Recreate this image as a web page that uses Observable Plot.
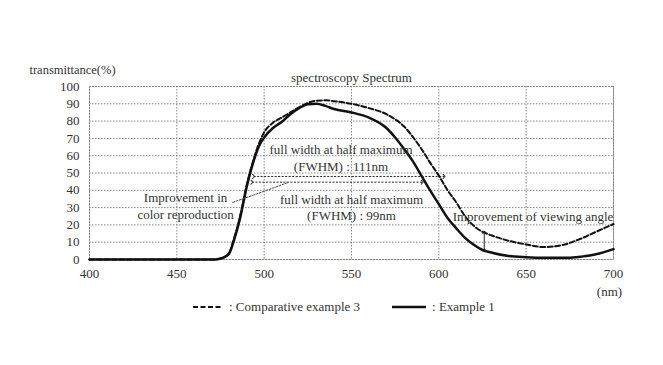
<!DOCTYPE html>
<html>
<head>
<meta charset="utf-8">
<script src="https://cdn.jsdelivr.net/npm/d3@7"></script>
<script src="https://cdn.jsdelivr.net/npm/@observablehq/plot@0.6"></script>
<style>
  body { margin: 0; background: #fff; }
  #wrap { position: relative; width: 663px; height: 365px; font-family: "Liberation Serif", "Times New Roman", serif; color: #333; }
  #legend { position: absolute; top: 299px; left: 193px; font-size: 13px; display: flex; align-items: center; white-space: nowrap; font-family: "Liberation Serif", serif; }
  #legend svg { display: block; }
</style>
</head>
<body>
<div id="wrap"></div>
<script>
// ---- data ----
const wavelength = [400,420,440,460,470,474,477,480,483,486,490,494,497,500,505,510,515,520,525,530,535,540,550,560,570,575,580,585,590,595,600,605,610,615,620,625,630,640,650,660,670,680,690,700];
const example1 = [0,0,0,0,0,0.3,1.2,3.5,12,23,42,57,65.5,70.5,76,79.5,84,87.5,89.8,90,88.8,87,85,82,76,70.5,64,57,48.5,40,32,24,18,12.5,8.5,5.5,4,2,1.3,1,1,1.5,3,6];
const comparative3 = [0,0,0,0,0,0.3,1.3,4,13,24,43,58,67,73.5,79,82,85,88,90.5,91.8,92,91.5,90,87.5,84,81,77,71,64,56,48.5,40,33,25,19.5,16,14,10.8,8.7,7.2,8.2,11.5,16,20.5];
const xTicks = [400,450,500,550,600,650,700];
const yTicks = [0,10,20,30,40,50,60,70,80,90,100];
const seriesNames = ["Comparative example 3", "Example 1"];

// annotation data (data coordinates)
const fwhmLines = [
  {x1: 494, x2: 603, y: 48, label: "111nm"},
  {x1: 493, x2: 590.5, y: 44.7, label: "99nm"}
];
const textNotes = [
  {x: 544, y: 59.2, text: "full width at half maximum\n(FWHM) : 111nm"},
  {x: 550, y: 30.6, text: "full width at half maximum\n(FWHM) : 99nm"},
  {x: 455, y: 31.2, text: "Improvement in\ncolor reproduction"},
  {x: 653.9, y: 25.4, text: "Improvement of viewing angle"}
];
const leaderX = [482, 494, 505, 514];
const leaderY = [33, 37.3, 41.3, 44.6];
const viewingArrow = [{x: 626, y1: 5.5, y2: 15.8}];

const rows1 = wavelength.map((x, i) => ({x, y: example1[i]}));
const rows3 = wavelength.map((x, i) => ({x, y: comparative3[i]}));
const leader = leaderX.map((x, i) => ({x, y: leaderY[i]}));

const font = "Liberation Serif, Times New Roman, serif";
const ink = "#111";

const chart = Plot.plot({
  width: 663,
  height: 365,
  marginLeft: 89,
  marginRight: 50,
  marginTop: 86,
  marginBottom: 106,
  style: {fontFamily: font, fontSize: "13px", color: "#333", background: "#fff"},
  x: {domain: [400, 700]},
  y: {domain: [0, 100]},
  marks: [
    Plot.ruleX(xTicks, {stroke: "#888", strokeDasharray: "1.5,1.5", strokeWidth: 1}),
    Plot.ruleY(yTicks, {stroke: "#888", strokeDasharray: "1.5,1.5", strokeWidth: 1}),
    Plot.frame({stroke: "#888", strokeDasharray: "1.5,1.5"}),
    Plot.axisX({ticks: xTicks, tickSize: 0, tickPadding: 9, label: null, fontSize: 13, fontFamily: font}),
    Plot.axisY({ticks: yTicks, tickSize: 0, tickPadding: 10, label: null, fontSize: 13, fontFamily: font}),
    Plot.line(rows3, {x: "x", y: "y", stroke: ink, strokeWidth: 2, strokeDasharray: "5,2.5", curve: "monotone-x"}),
    Plot.line(rows1, {x: "x", y: "y", stroke: ink, strokeWidth: 2.5, curve: "monotone-x"}),
    Plot.link(fwhmLines, {x1: "x1", x2: "x2", y1: "y", y2: "y", stroke: "#222", strokeWidth: 1, strokeDasharray: "2,1.5", markerStart: "arrow", markerEnd: "arrow"}),
    Plot.line(leader, {x: "x", y: "y", stroke: "#444", strokeWidth: 1, strokeDasharray: "2,1.5", curve: "natural"}),
    Plot.link(viewingArrow, {x1: "x", x2: "x", y1: "y1", y2: "y2", stroke: "#222", strokeWidth: 1, markerStart: "arrow", markerEnd: "arrow"}),
    Plot.text(textNotes, {x: "x", y: "y", text: "text", fontSize: 13, fontFamily: font, fill: "#333", lineHeight: 1.3, textAnchor: "middle"}),
    Plot.text(["spectroscopy Spectrum"], {frameAnchor: "top", dy: -14, fontSize: 13, fontFamily: font, fill: "#333"}),
    Plot.text(["transmittance(%)"], {frameAnchor: "top-left", dx: -17, dy: -21, textAnchor: "middle", fontSize: 12.5, fontFamily: font, fill: "#333"}),
    Plot.text(["(nm)"], {frameAnchor: "bottom-right", dx: -4, dy: 36, textAnchor: "middle", fontSize: 13, fontFamily: font, fill: "#333"})
  ]
});

const wrap = document.getElementById("wrap");
wrap.appendChild(chart);

// legend below the plot area
const legend = document.createElement("div");
legend.id = "legend";
legend.innerHTML =
  `<svg width="31" height="12"><line x1="0" x2="30" y1="6" y2="6" stroke="${ink}" stroke-width="2" stroke-dasharray="5,2.5"/></svg>` +
  `<span style="margin-left:5px">: ${seriesNames[0]}</span>` +
  `<svg width="35" height="12" style="margin-left:32px"><line x1="0" x2="34" y1="6" y2="6" stroke="${ink}" stroke-width="2.5"/></svg>` +
  `<span style="margin-left:5px">: ${seriesNames[1]}</span>`;
wrap.appendChild(legend);
</script>
</body>
</html>
